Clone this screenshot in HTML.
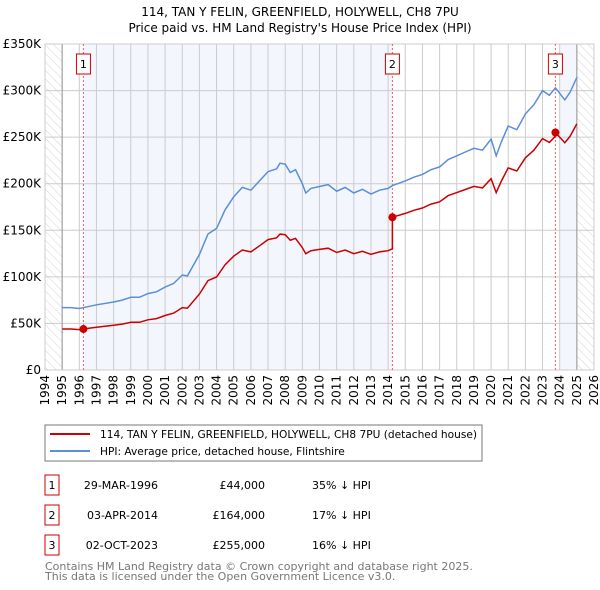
<!DOCTYPE html>
<html><head><meta charset="utf-8"><style>
body{margin:0;background:#fff;font-family:"DejaVu Sans","Liberation Sans",sans-serif;}
svg{display:block}
</style></head><body>
<svg id="c" width="600" height="590" viewBox="0 0 600 590" xmlns="http://www.w3.org/2000/svg" font-family="DejaVu Sans, Liberation Sans, sans-serif">
<defs><pattern id="hatch" width="6" height="6" patternUnits="userSpaceOnUse" patternTransform="rotate(-45)"><line x1="0" y1="0" x2="0" y2="6" stroke="#d4d4d4" stroke-width="1"/></pattern></defs>
<text x="300" y="16" text-anchor="middle" font-size="12">114, TAN Y FELIN, GREENFIELD, HOLYWELL, CH8 7PU</text>
<text x="300" y="32" text-anchor="middle" font-size="12">Price paid vs. HM Land Registry's House Price Index (HPI)</text>
<g id="plot"></g>
<rect x="45" y="425" width="437" height="36" fill="#fff" stroke="#777"/>
<line x1="50" y1="434" x2="90" y2="434" stroke="#cc0000" stroke-width="2"/>
<text x="100" y="438" font-size="10.6">114, TAN Y FELIN, GREENFIELD, HOLYWELL, CH8 7PU (detached house)</text>
<line x1="50" y1="451" x2="90" y2="451" stroke="#5b8fd6" stroke-width="2"/>
<text x="100" y="455" font-size="10.6">HPI: Average price, detached house, Flintshire</text>
<g id="table" font-size="11"></g>
<text x="45" y="570" font-size="11" fill="#777">Contains HM Land Registry data © Crown copyright and database right 2025.</text>
<text x="45" y="580" font-size="11" fill="#777">This data is licensed under the Open Government Licence v3.0.</text>
</svg>
<script>
const hpiYears=[1995,1995.5,1996,1996.5,1997,1998,1998.5,1999,1999.5,2000,2000.5,2001,2001.5,2002,2002.3,2003,2003.5,2004,2004.5,2005,2005.5,2006,2006.5,2007,2007.5,2007.7,2008,2008.3,2008.6,2009,2009.2,2009.5,2010,2010.5,2011,2011.5,2012,2012.5,2013,2013.5,2014,2014.25,2015,2015.5,2016,2016.5,2017,2017.5,2018,2018.5,2019,2019.5,2020,2020.3,2020.6,2021,2021.5,2022,2022.5,2023,2023.4,2023.75,2024.3,2024.6,2025];
const hpiValues=[67,67,66,68,70,73,75,78,78,82,84,89,93,102,101,124,146,152,172,186,196,193,203,213,216,222,221,212,215,200,190,195,197,199,192,196,190,194,189,193,195,198,203,207,210,215,218,226,230,234,238,236,248,230,245,262,258,275,285,300,295,303,290,298,314];
const saleYears=[1996.24,2014.25,2023.75];
const salePrices=[44,164,255];
const saleLabels=["1","2","3"];
const saleDates=["29-MAR-1996","03-APR-2014","02-OCT-2023"];
const salePriceText=["£44,000","£164,000","£255,000"];
const saleDiffs=["35% ↓ HPI","17% ↓ HPI","16% ↓ HPI"];
const yTicks=[0,50,100,150,200,250,300,350];
const yTickLabels=["£0","£50K","£100K","£150K","£200K","£250K","£300K","£350K"];
const xTicks=[1994,1995,1996,1997,1998,1999,2000,2001,2002,2003,2004,2005,2006,2007,2008,2009,2010,2011,2012,2013,2014,2015,2016,2017,2018,2019,2020,2021,2022,2023,2024,2025,2026];

const X0=45,X1=594,Y0=370,Y1=44,NS="http://www.w3.org/2000/svg";
const xs=y=>X0+(y-1994)/(2026-1994)*(X1-X0);
const ys=v=>Y0-v/350*(Y0-Y1);
const g=document.getElementById('plot');
function mk(t,a,p){const e=document.createElementNS(NS,t);for(const k in a)e.setAttribute(k,a[k]);(p||g).appendChild(e);return e;}
function hpiAt(y){for(let i=0;i<hpiYears.length-1;i++){if(y<=hpiYears[i+1]){const t=(y-hpiYears[i])/(hpiYears[i+1]-hpiYears[i]);return hpiValues[i]+t*(hpiValues[i+1]-hpiValues[i]);}}return hpiValues[hpiValues.length-1];}

let e;
e=mk('rect',{x:X0,y:Y1,width:X1-X0,height:Y0-Y1,fill:'#fff'});

e=mk('rect',{x:xs(saleYears[0]),y:Y1,width:xs(saleYears[1])-xs(saleYears[0]),height:Y0-Y1,fill:'#f3f6fd'});

e=mk('rect',{x:xs(2024),y:Y1,width:xs(2025)-xs(2024),height:Y0-Y1,fill:'#f3f6fd'});

e=mk('rect',{x:X0,y:Y1,width:xs(1995)-X0,height:Y0-Y1,fill:'url(#hatch)'});

e=mk('rect',{x:xs(2025),y:Y1,width:X1-xs(2025),height:Y0-Y1,fill:'url(#hatch)'});


yTicks.forEach((v,i)=>{
  const l=mk('line',{x1:X0,x2:X1,y1:ys(v),y2:ys(v),stroke:'#ccc'});
  
  const t=mk('text',{x:X0-4,y:ys(v)+4,'text-anchor':'end','font-size':12});
  t.textContent=yTickLabels[i];
  
});
xTicks.forEach(y=>{
  const l=mk('line',{x1:xs(y),x2:xs(y),y1:Y1,y2:Y0,stroke:'#ccc'});
  
  const t=mk('text',{x:0,y:0,'text-anchor':'end','font-size':12,transform:`translate(${xs(y)+4},${Y0+5}) rotate(-90)`});
  t.textContent=y;
  
});
e=mk('line',{x1:xs(1995),x2:xs(1995),y1:Y1,y2:Y0,stroke:'#999'});

e=mk('line',{x1:xs(2025),x2:xs(2025),y1:Y1,y2:Y0,stroke:'#999'});

e=mk('rect',{x:X0,y:Y1,width:X1-X0,height:Y0-Y1,fill:'none',stroke:'#ccc'});


saleYears.forEach((sy,i)=>{
  const l=mk('line',{x1:xs(sy),x2:xs(sy),y1:Y1,y2:Y0,stroke:'#f06060','stroke-dasharray':'2,2'});
  
  const r=mk('rect',{x:xs(sy)-7,y:Y1+10,width:14,height:20,fill:'#fff',stroke:'#cc0000'});
  
  const t=mk('text',{x:xs(sy),y:Y1+24,'text-anchor':'middle','font-size':11});
  t.textContent=saleLabels[i];
  
});

let d=hpiYears.map((y,i)=>(i?'L':'M')+xs(y).toFixed(1)+','+ys(hpiValues[i]).toFixed(1)).join('');
e=mk('path',{d:d,fill:'none',stroke:'#5b8fd6','stroke-width':1.5});


let pd='';
hpiYears.forEach((y,i)=>{
  let k=0;for(let j=0;j<saleYears.length;j++)if(y>=saleYears[j])k=j;
  const ratio=salePrices[k]/hpiAt(saleYears[k]);
  const nxt=saleYears.findIndex(s=>s>(i?hpiYears[i-1]:0)&&s<=y);
  if(i>0&&nxt>=0){
    const pk=Math.max(0,nxt-1);const pr=salePrices[pk]/hpiAt(saleYears[pk]);
    pd+='L'+xs(saleYears[nxt]).toFixed(1)+','+ys(hpiAt(saleYears[nxt])*pr).toFixed(1);
    pd+='L'+xs(saleYears[nxt]).toFixed(1)+','+ys(salePrices[nxt]).toFixed(1);
  }
  pd+=(i?'L':'M')+xs(y).toFixed(1)+','+ys(hpiValues[i]*ratio).toFixed(1);
});
e=mk('path',{d:pd,fill:'none',stroke:'#cc0000','stroke-width':1.5});

saleYears.forEach((sy,i)=>{
  const c=mk('circle',{cx:xs(sy),cy:ys(salePrices[i]),r:4,fill:'#cc0000'});
  
});

const tb=document.getElementById('table');
saleLabels.forEach((lab,i)=>{
  const y0=475+i*30;
  const r=mk('rect',{x:45,y:y0,width:14,height:20,fill:'#fff',stroke:'#cc0000'},tb);
  
  const cols=[[52,lab,'middle'],[158,saleDates[i],'end'],[265,salePriceText[i],'end'],[312,saleDiffs[i],'start']];
  cols.forEach(([x,s,a],j)=>{
    const t=mk('text',{x:x,y:y0+14,'text-anchor':a},tb);
    t.textContent=s;
    
    
  });
});
</script>
</body></html>
